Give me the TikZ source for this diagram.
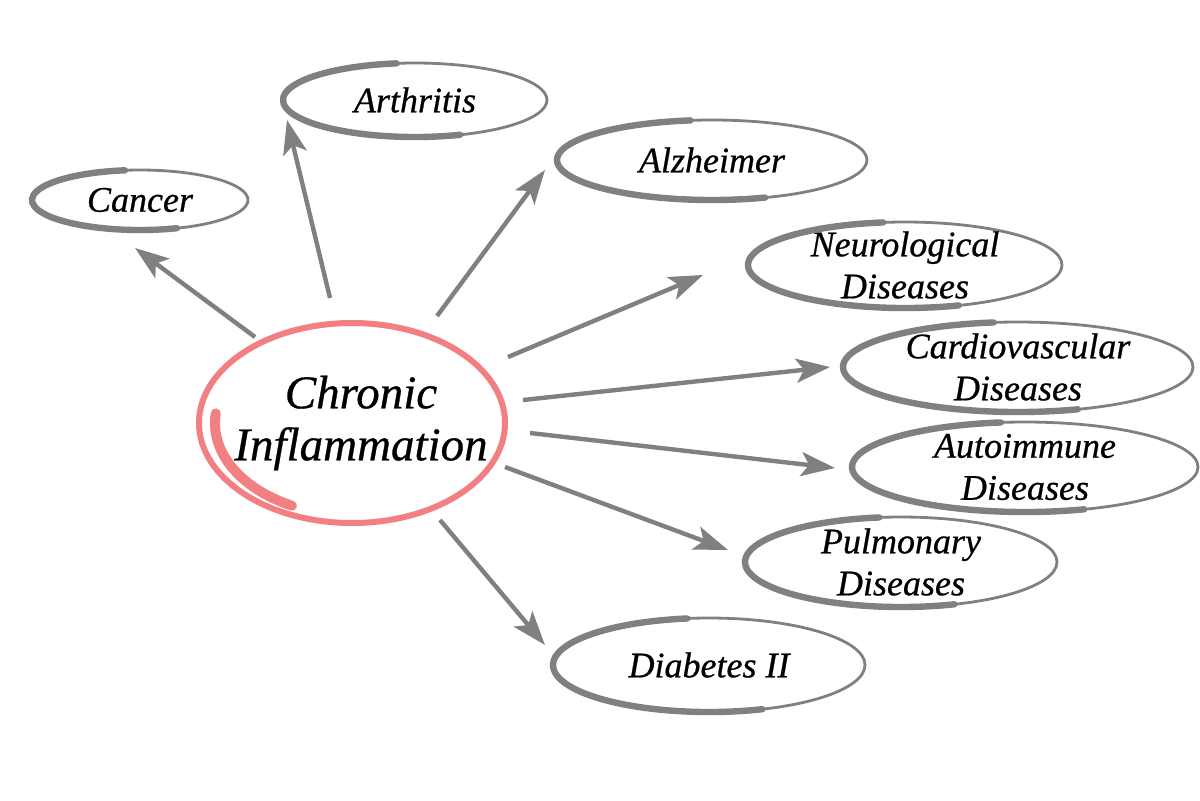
\documentclass[tikz,border=0pt]{standalone}
\usepackage{fontspec}
\setmainfont{Liberation Serif}[ItalicFeatures={FakeBold=0.6}]
\usetikzlibrary{shapes.geometric,arrows.meta}
\definecolor{strokegray}{RGB}{128,128,128}
\definecolor{pinkring}{RGB}{242,128,130}
\newcommand\brusharc[3]{\draw[brushthick] ([shift={(70:#2 and #3)}]#1.center) arc[start angle=70, end angle=262, x radius=#2, y radius=#3];}
\begin{document}
\begin{tikzpicture}[x=0.5pt,y=-0.5pt,
  disease/.style={ellipse, draw=strokegray, line width=1.4pt, inner sep=-10pt,
    align=center, font=\fontsize{18}{21}\selectfont\itshape},
  brushthick/.style={draw=strokegray, line width=3.2pt, line cap=round},
  hub/.style={ellipse, draw=pinkring, line width=3pt, inner xsep=-28pt, inner ysep=-10pt,
    align=center, font=\fontsize{23.5}{26}\selectfont\itshape},
  arr/.style={draw=strokegray, line width=2.2pt,
    -{Stealth[length=17pt, width=12pt, inset=4pt]}}]
\useasboundingbox[fill=white] (0,0) rectangle (1200,800);

\node[hub, minimum width=153pt, minimum height=100pt] (ci) at (352,423) {\hspace*{9pt}Chronic\\\hspace*{9pt}Inflammation};
\draw[pinkring, line width=5pt, line cap=round] ([shift={(186:137 and 92)}]ci.center) arc[start angle=186, end angle=116, x radius=137, y radius=92];

\node[disease, minimum width=108pt, minimum height=30pt] (cancer) at (140,200) {Cancer};
\node[disease, minimum width=132pt, minimum height=37pt] (arth) at (415,100) {Arthritis};
\node[disease, minimum width=155pt, minimum height=40pt] (alz) at (712,160) {Alzheimer};
\node[disease, minimum width=157pt, minimum height=43pt] (neuro) at (905,265) {Neurological\\Diseases};
\node[disease, minimum width=175pt, minimum height=45pt] (cardio) at (1018,367) {Cardiovascular\\Diseases};
\node[disease, minimum width=173pt, minimum height=45pt] (auto) at (1025,467) {Autoimmune\\Diseases};
\node[disease, minimum width=156pt, minimum height=45pt] (pulm) at (901,562) {Pulmonary\\Diseases};
\node[disease, minimum width=156pt, minimum height=47pt] (diab) at (709,665) {Diabetes II};

\brusharc{cancer}{108}{30}
\brusharc{arth}{132}{37}
\brusharc{alz}{155}{40}
\brusharc{neuro}{157}{43}
\brusharc{cardio}{175}{45}
\brusharc{auto}{173}{45}
\brusharc{pulm}{156}{45}
\brusharc{diab}{156}{47}

\draw[arr] ([shift={(-97,-86)}]ci.center) -- ([shift={(-5,48)}]cancer.center);
\draw[arr] ([shift={(-22,-125)}]ci.center) -- ([shift={(-128,20)}]arth.center);
\draw[arr] ([shift={(85,-107)}]ci.center) -- ([shift={(-167,10)}]alz.center);
\draw[arr] ([shift={(156,-66)}]ci.center) -- ([shift={(-202,10)}]neuro.center);
\draw[arr] ([shift={(171,-23)}]ci.center) -- ([shift={(-188,0)}]cardio.center);
\draw[arr] ([shift={(178,10)}]ci.center) -- ([shift={(-190,1)}]auto.center);
\draw[arr] ([shift={(153,44)}]ci.center) -- ([shift={(-173,-12)}]pulm.center);
\draw[arr] ([shift={(88,97)}]ci.center) -- ([shift={(-164,-20)}]diab.center);
\end{tikzpicture}
\end{document}
